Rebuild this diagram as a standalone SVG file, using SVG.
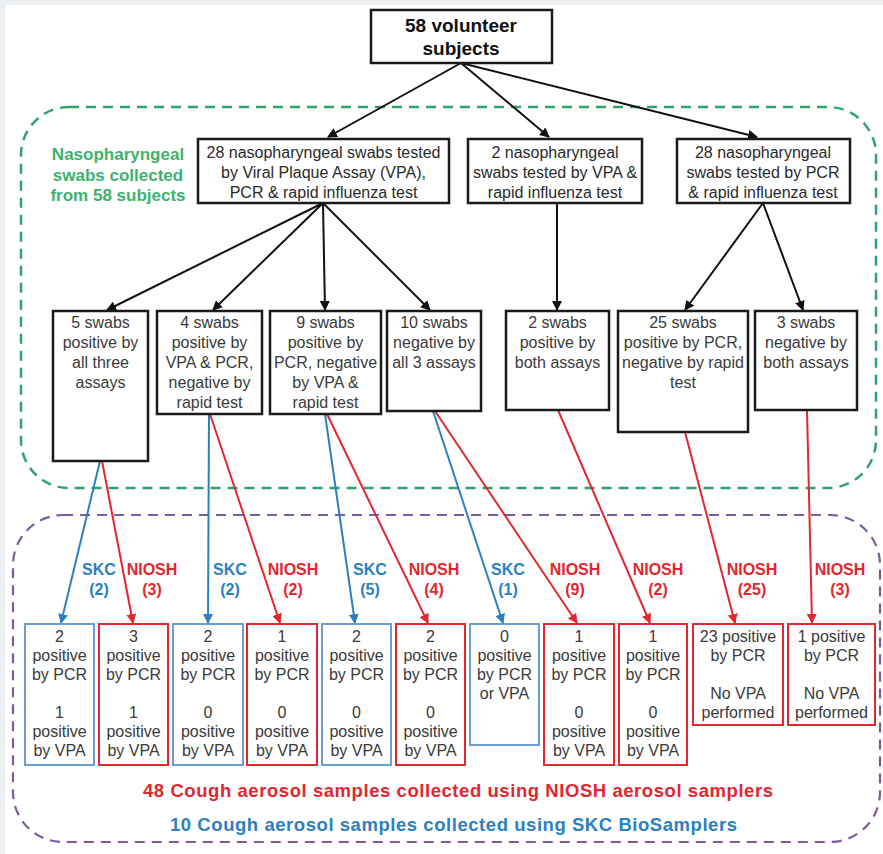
<svg xmlns="http://www.w3.org/2000/svg" width="883" height="854" viewBox="0 0 883 854">
<defs>
<marker id="ab" viewBox="0 0 10 10" refX="9" refY="5" markerWidth="5" markerHeight="5" orient="auto" markerUnits="strokeWidth"><path d="M0,0 L10,5 L0,10 z" fill="#111"/></marker>
<marker id="ar" viewBox="0 0 10 10" refX="9" refY="5" markerWidth="5" markerHeight="5" orient="auto" markerUnits="strokeWidth"><path d="M0,0 L10,5 L0,10 z" fill="#e3262f"/></marker>
<marker id="au" viewBox="0 0 10 10" refX="9" refY="5" markerWidth="5" markerHeight="5" orient="auto" markerUnits="strokeWidth"><path d="M0,0 L10,5 L0,10 z" fill="#2d7fc1"/></marker>
</defs>
<style>
text{font-family:"Liberation Sans",Arial,sans-serif;text-anchor:middle}
.box{fill:#fff;stroke:#1a1a1a;stroke-width:2.5}
.rb{fill:#fff;stroke:#e3262f;stroke-width:2}
.bb{fill:#fff;stroke:#5c93cf;stroke-width:1.8}
.t{font-size:16px;fill:#2a2a2a}
.s{font-size:16px;fill:#3a3a3a}
.kb{stroke:#111;stroke-width:2;fill:none;marker-end:url(#ab)}
.kr{stroke:#e3262f;stroke-width:2;fill:none;marker-end:url(#ar)}
.ku{stroke:#2d7fc1;stroke-width:2;fill:none;marker-end:url(#au)}
.lr{font-size:16px;font-weight:bold;fill:#e3262f}
.lu{font-size:16px;font-weight:bold;fill:#2d7fc1}
.gl{font-size:17px;font-weight:bold;fill:#3db26c}
</style>
<rect x="0" y="0" width="883" height="854" fill="#eceff2"/>
<rect x="5" y="5" width="878" height="849" fill="#fff"/>

<g id="groups">
<rect x="21" y="107" width="855" height="381" rx="48" fill="none" stroke="#2fa36b" stroke-width="2.5" stroke-dasharray="10 7"/>
<rect x="13" y="515" width="867" height="327" rx="50" fill="none" stroke="#7b5c9c" stroke-width="2.2" stroke-dasharray="10 7"/>
<text class="gl" x="118" y="160">Nasopharyngeal</text>
<text class="gl" x="118" y="181">swabs collected</text>
<text class="gl" x="118" y="201">from 58 subjects</text>
</g>

<g id="connectors">
<line class="kb" x1="461" y1="63" x2="328" y2="137"/>
<line class="kb" x1="461" y1="63" x2="549" y2="137"/>
<line class="kb" x1="461" y1="63" x2="757" y2="137"/>
<line class="kb" x1="323" y1="203" x2="107" y2="310"/>
<line class="kb" x1="323" y1="203" x2="213" y2="310"/>
<line class="kb" x1="323" y1="203" x2="325" y2="310"/>
<line class="kb" x1="323" y1="203" x2="430" y2="310"/>
<line class="kb" x1="557" y1="203" x2="557" y2="310"/>
<line class="kb" x1="763" y1="203" x2="685" y2="310"/>
<line class="kb" x1="763" y1="203" x2="803" y2="310"/>
<line class="ku" x1="100" y1="461" x2="61" y2="623"/>
<line class="kr" x1="102" y1="461" x2="133" y2="623"/>
<line class="ku" x1="209" y1="414" x2="208" y2="623"/>
<line class="kr" x1="210" y1="414" x2="280" y2="623"/>
<line class="ku" x1="325" y1="414" x2="355" y2="623"/>
<line class="kr" x1="327" y1="414" x2="428" y2="623"/>
<line class="ku" x1="433" y1="411" x2="503" y2="623"/>
<line class="kr" x1="435" y1="411" x2="577" y2="623"/>
<line class="kr" x1="558" y1="410" x2="650" y2="623"/>
<line class="kr" x1="685" y1="432" x2="735" y2="623"/>
<line class="kr" x1="807" y1="410" x2="812" y2="623"/>
<text class="lu" x="99" y="575">SKC</text><text class="lu" x="99" y="595">(2)</text>
<text class="lr" x="152" y="575">NIOSH</text><text class="lr" x="152" y="595">(3)</text>
<text class="lu" x="230" y="575">SKC</text><text class="lu" x="230" y="595">(2)</text>
<text class="lr" x="293" y="575">NIOSH</text><text class="lr" x="293" y="595">(2)</text>
<text class="lu" x="370" y="575">SKC</text><text class="lu" x="370" y="595">(5)</text>
<text class="lr" x="434" y="575">NIOSH</text><text class="lr" x="434" y="595">(4)</text>
<text class="lu" x="508" y="575">SKC</text><text class="lu" x="508" y="595">(1)</text>
<text class="lr" x="575" y="575">NIOSH</text><text class="lr" x="575" y="595">(9)</text>
<text class="lr" x="658" y="575">NIOSH</text><text class="lr" x="658" y="595">(2)</text>
<text class="lr" x="752" y="575">NIOSH</text><text class="lr" x="752" y="595">(25)</text>
<text class="lr" x="840" y="575">NIOSH</text><text class="lr" x="840" y="595">(3)</text>
</g>

<g id="root">
<rect class="box" x="371" y="10" width="181" height="53"/>
<text x="461" y="32" font-size="19" font-weight="bold" fill="#111">58 volunteer</text>
<text x="461" y="55" font-size="19" font-weight="bold" fill="#111">subjects</text>
</g>

<g id="n28vpa">
<rect class="box" x="198" y="139" width="251" height="64"/>
<text class="t" x="323.5" y="158">28 nasopharyngeal swabs tested</text>
<text class="t" x="323.5" y="178">by Viral Plaque Assay (VPA),</text>
<text class="t" x="323.5" y="198">PCR &amp; rapid influenza test</text>
</g>
<g id="n2vpa">
<rect class="box" x="468" y="139" width="174" height="64"/>
<text class="t" x="555" y="158">2 nasopharyngeal</text>
<text class="t" x="555" y="178">swabs tested by VPA &amp;</text>
<text class="t" x="555" y="198">rapid influenza test</text>
</g>
<g id="n28pcr">
<rect class="box" x="677" y="139" width="173" height="64"/>
<text class="t" x="763" y="158">28 nasopharyngeal</text>
<text class="t" x="763" y="178">swabs tested by PCR</text>
<text class="t" x="763" y="198">&amp; rapid influenza test</text>
</g>

<g id="a5">
<rect class="box" x="53" y="311" width="95" height="150"/>
<text class="s" x="100.5" y="328">5 swabs</text>
<text class="s" x="100.5" y="348">positive by</text>
<text class="s" x="100.5" y="368">all three</text>
<text class="s" x="100.5" y="388">assays</text>
</g>
<g id="b4">
<rect class="box" x="157" y="311" width="105" height="103"/>
<text class="s" x="209.5" y="328">4 swabs</text>
<text class="s" x="209.5" y="348">positive by</text>
<text class="s" x="209.5" y="368">VPA &amp; PCR,</text>
<text class="s" x="209.5" y="388">negative by</text>
<text class="s" x="209.5" y="408">rapid test</text>
</g>
<g id="c9">
<rect class="box" x="270" y="311" width="111" height="103"/>
<text class="s" x="325.5" y="328">9 swabs</text>
<text class="s" x="325.5" y="348">positive by</text>
<text class="s" x="325.5" y="368">PCR, negative</text>
<text class="s" x="325.5" y="388">by VPA &amp;</text>
<text class="s" x="325.5" y="408">rapid test</text>
</g>
<g id="d10">
<rect class="box" x="387" y="311" width="94" height="100"/>
<text class="s" x="434" y="328">10 swabs</text>
<text class="s" x="434" y="348">negative by</text>
<text class="s" x="434" y="368">all 3 assays</text>
</g>
<g id="e2">
<rect class="box" x="506" y="311" width="103" height="99"/>
<text class="s" x="557.5" y="328">2 swabs</text>
<text class="s" x="557.5" y="348">positive by</text>
<text class="s" x="557.5" y="368">both assays</text>
</g>
<g id="f25">
<rect class="box" x="618" y="311" width="130" height="121"/>
<text class="s" x="683" y="328">25 swabs</text>
<text class="s" x="683" y="348">positive by PCR,</text>
<text class="s" x="683" y="368">negative by rapid</text>
<text class="s" x="683" y="388">test</text>
</g>
<g id="g3">
<rect class="box" x="755" y="311" width="102" height="99"/>
<text class="s" x="806" y="328">3 swabs</text>
<text class="s" x="806" y="348">negative by</text>
<text class="s" x="806" y="368">both assays</text>
</g>

<g id="s1">
<rect class="bb" x="25" y="624" width="69" height="141"/>
<text class="s" x="59.5" y="642">2</text><text class="s" x="59.5" y="661">positive</text><text class="s" x="59.5" y="680">by PCR</text>
<text class="s" x="59.5" y="718">1</text><text class="s" x="59.5" y="737">positive</text><text class="s" x="59.5" y="756">by VPA</text>
</g>
<g id="n1">
<rect class="rb" x="99" y="624" width="69" height="141"/>
<text class="s" x="133.5" y="642">3</text><text class="s" x="133.5" y="661">positive</text><text class="s" x="133.5" y="680">by PCR</text>
<text class="s" x="133.5" y="718">1</text><text class="s" x="133.5" y="737">positive</text><text class="s" x="133.5" y="756">by VPA</text>
</g>
<g id="s2">
<rect class="bb" x="173" y="624" width="70" height="141"/>
<text class="s" x="208" y="642">2</text><text class="s" x="208" y="661">positive</text><text class="s" x="208" y="680">by PCR</text>
<text class="s" x="208" y="718">0</text><text class="s" x="208" y="737">positive</text><text class="s" x="208" y="756">by VPA</text>
</g>
<g id="n2">
<rect class="rb" x="247" y="624" width="70" height="141"/>
<text class="s" x="282" y="642">1</text><text class="s" x="282" y="661">positive</text><text class="s" x="282" y="680">by PCR</text>
<text class="s" x="282" y="718">0</text><text class="s" x="282" y="737">positive</text><text class="s" x="282" y="756">by VPA</text>
</g>
<g id="s3">
<rect class="bb" x="322" y="624" width="69" height="141"/>
<text class="s" x="356.5" y="642">2</text><text class="s" x="356.5" y="661">positive</text><text class="s" x="356.5" y="680">by PCR</text>
<text class="s" x="356.5" y="718">0</text><text class="s" x="356.5" y="737">positive</text><text class="s" x="356.5" y="756">by VPA</text>
</g>
<g id="n3">
<rect class="rb" x="396" y="624" width="69" height="141"/>
<text class="s" x="430.5" y="642">2</text><text class="s" x="430.5" y="661">positive</text><text class="s" x="430.5" y="680">by PCR</text>
<text class="s" x="430.5" y="718">0</text><text class="s" x="430.5" y="737">positive</text><text class="s" x="430.5" y="756">by VPA</text>
</g>
<g id="s4">
<rect class="bb" x="470" y="624" width="69" height="121"/>
<text class="s" x="504.5" y="642">0</text><text class="s" x="504.5" y="661">positive</text><text class="s" x="504.5" y="680">by PCR</text><text class="s" x="504.5" y="699">or VPA</text>
</g>
<g id="n4">
<rect class="rb" x="544" y="624" width="70" height="141"/>
<text class="s" x="579" y="642">1</text><text class="s" x="579" y="661">positive</text><text class="s" x="579" y="680">by PCR</text>
<text class="s" x="579" y="718">0</text><text class="s" x="579" y="737">positive</text><text class="s" x="579" y="756">by VPA</text>
</g>
<g id="n5">
<rect class="rb" x="619" y="624" width="68" height="141"/>
<text class="s" x="653" y="642">1</text><text class="s" x="653" y="661">positive</text><text class="s" x="653" y="680">by PCR</text>
<text class="s" x="653" y="718">0</text><text class="s" x="653" y="737">positive</text><text class="s" x="653" y="756">by VPA</text>
</g>
<g id="n6">
<rect class="rb" x="693" y="624" width="90" height="101"/>
<text class="s" x="738" y="642">23 positive</text><text class="s" x="738" y="661">by PCR</text>
<text class="s" x="738" y="699">No VPA</text><text class="s" x="738" y="718">performed</text>
</g>
<g id="n7">
<rect class="rb" x="788" y="624" width="87" height="101"/>
<text class="s" x="831.5" y="642">1 positive</text><text class="s" x="831.5" y="661">by PCR</text>
<text class="s" x="831.5" y="699">No VPA</text><text class="s" x="831.5" y="718">performed</text>
</g>

<g id="footer">
<text x="458" y="797" font-size="18.5" font-weight="bold" fill="#e3262f" textLength="630" lengthAdjust="spacing">48 Cough aerosol samples collected using NIOSH aerosol samplers</text>
<text x="453.5" y="831" font-size="18.5" font-weight="bold" fill="#2d7fc1" textLength="567" lengthAdjust="spacing">10 Cough aerosol samples collected using SKC BioSamplers</text>
</g>
</svg>
